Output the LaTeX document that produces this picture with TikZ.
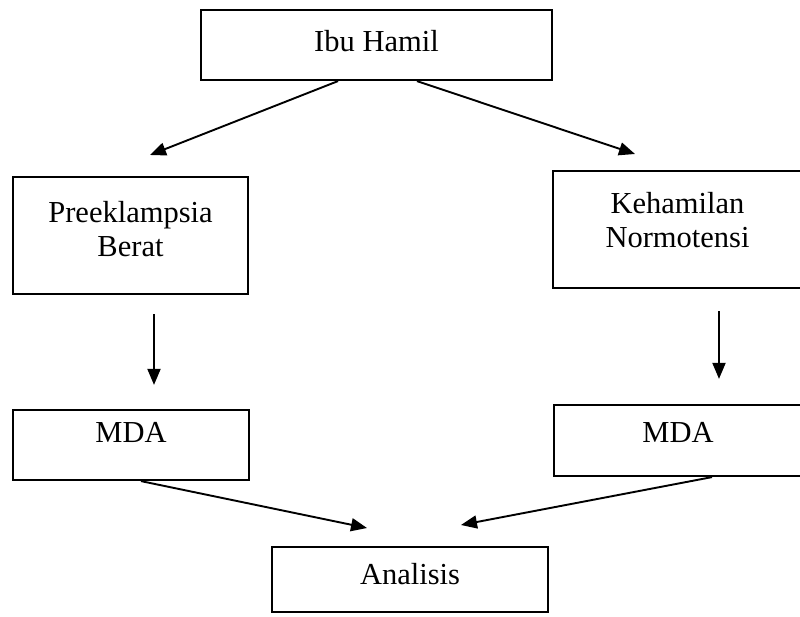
\documentclass[tikz,border=0pt]{standalone}
\usepackage{fontspec}
\setmainfont{Liberation Serif}
\usetikzlibrary{arrows.meta}
\begin{document}
\begin{tikzpicture}[x=1pt,y=-1pt,
  box/.style={draw, line width=2.2pt, inner sep=0pt, align=center,
    font=\fontsize{30.5}{34}\selectfont},
  arr/.style={line width=1.9pt, -{Triangle[length=16pt,width=13pt]}}]
\useasboundingbox (0,0) rectangle (800,616);

% boxes
\node[box, minimum width=351pt, minimum height=70pt, text depth=8pt] (ibu) at (376.5,45) {Ibu Hamil};
\node[box, minimum width=235pt, minimum height=117pt, text depth=13pt] (pb) at (130.5,235.5) {Preeklampsia\\Berat};
\node[box, minimum width=249pt, minimum height=117pt, text depth=19pt] (kn) at (677.5,229.5) {Kehamilan\\Normotensi};
\node[box, minimum width=236pt, minimum height=70pt, text depth=26pt] (m1) at (131,445) {MDA};
\node[box, minimum width=248pt, minimum height=71pt, text depth=17pt] (m2) at (678,440.5) {MDA};
\node[box, minimum width=276pt, minimum height=65pt, text depth=11pt] (an) at (410,579.5) {Analisis};

% free arrow ends
\coordinate (t1) at (150,155);
\coordinate (t2) at (635,154);
\coordinate (b1) at (367,528);
\coordinate (b2) at (461,525);

% connectors
\draw[arr] ([xshift=-38.5pt]ibu.south) -- (t1);
\draw[arr] ([xshift=40.5pt]ibu.south) -- (t2);
\draw[arr] ([xshift=23.5pt,yshift=-19pt]pb.south) -- ([xshift=23pt,yshift=24pt]m1.north);
\draw[arr] ([xshift=41.5pt,yshift=-22pt]kn.south) -- ([xshift=41pt,yshift=25pt]m2.north);
\draw[arr] ([xshift=10pt]m1.south) -- (b1);
\draw[arr] ([xshift=34pt]m2.south) -- (b2);
\end{tikzpicture}
\end{document}
